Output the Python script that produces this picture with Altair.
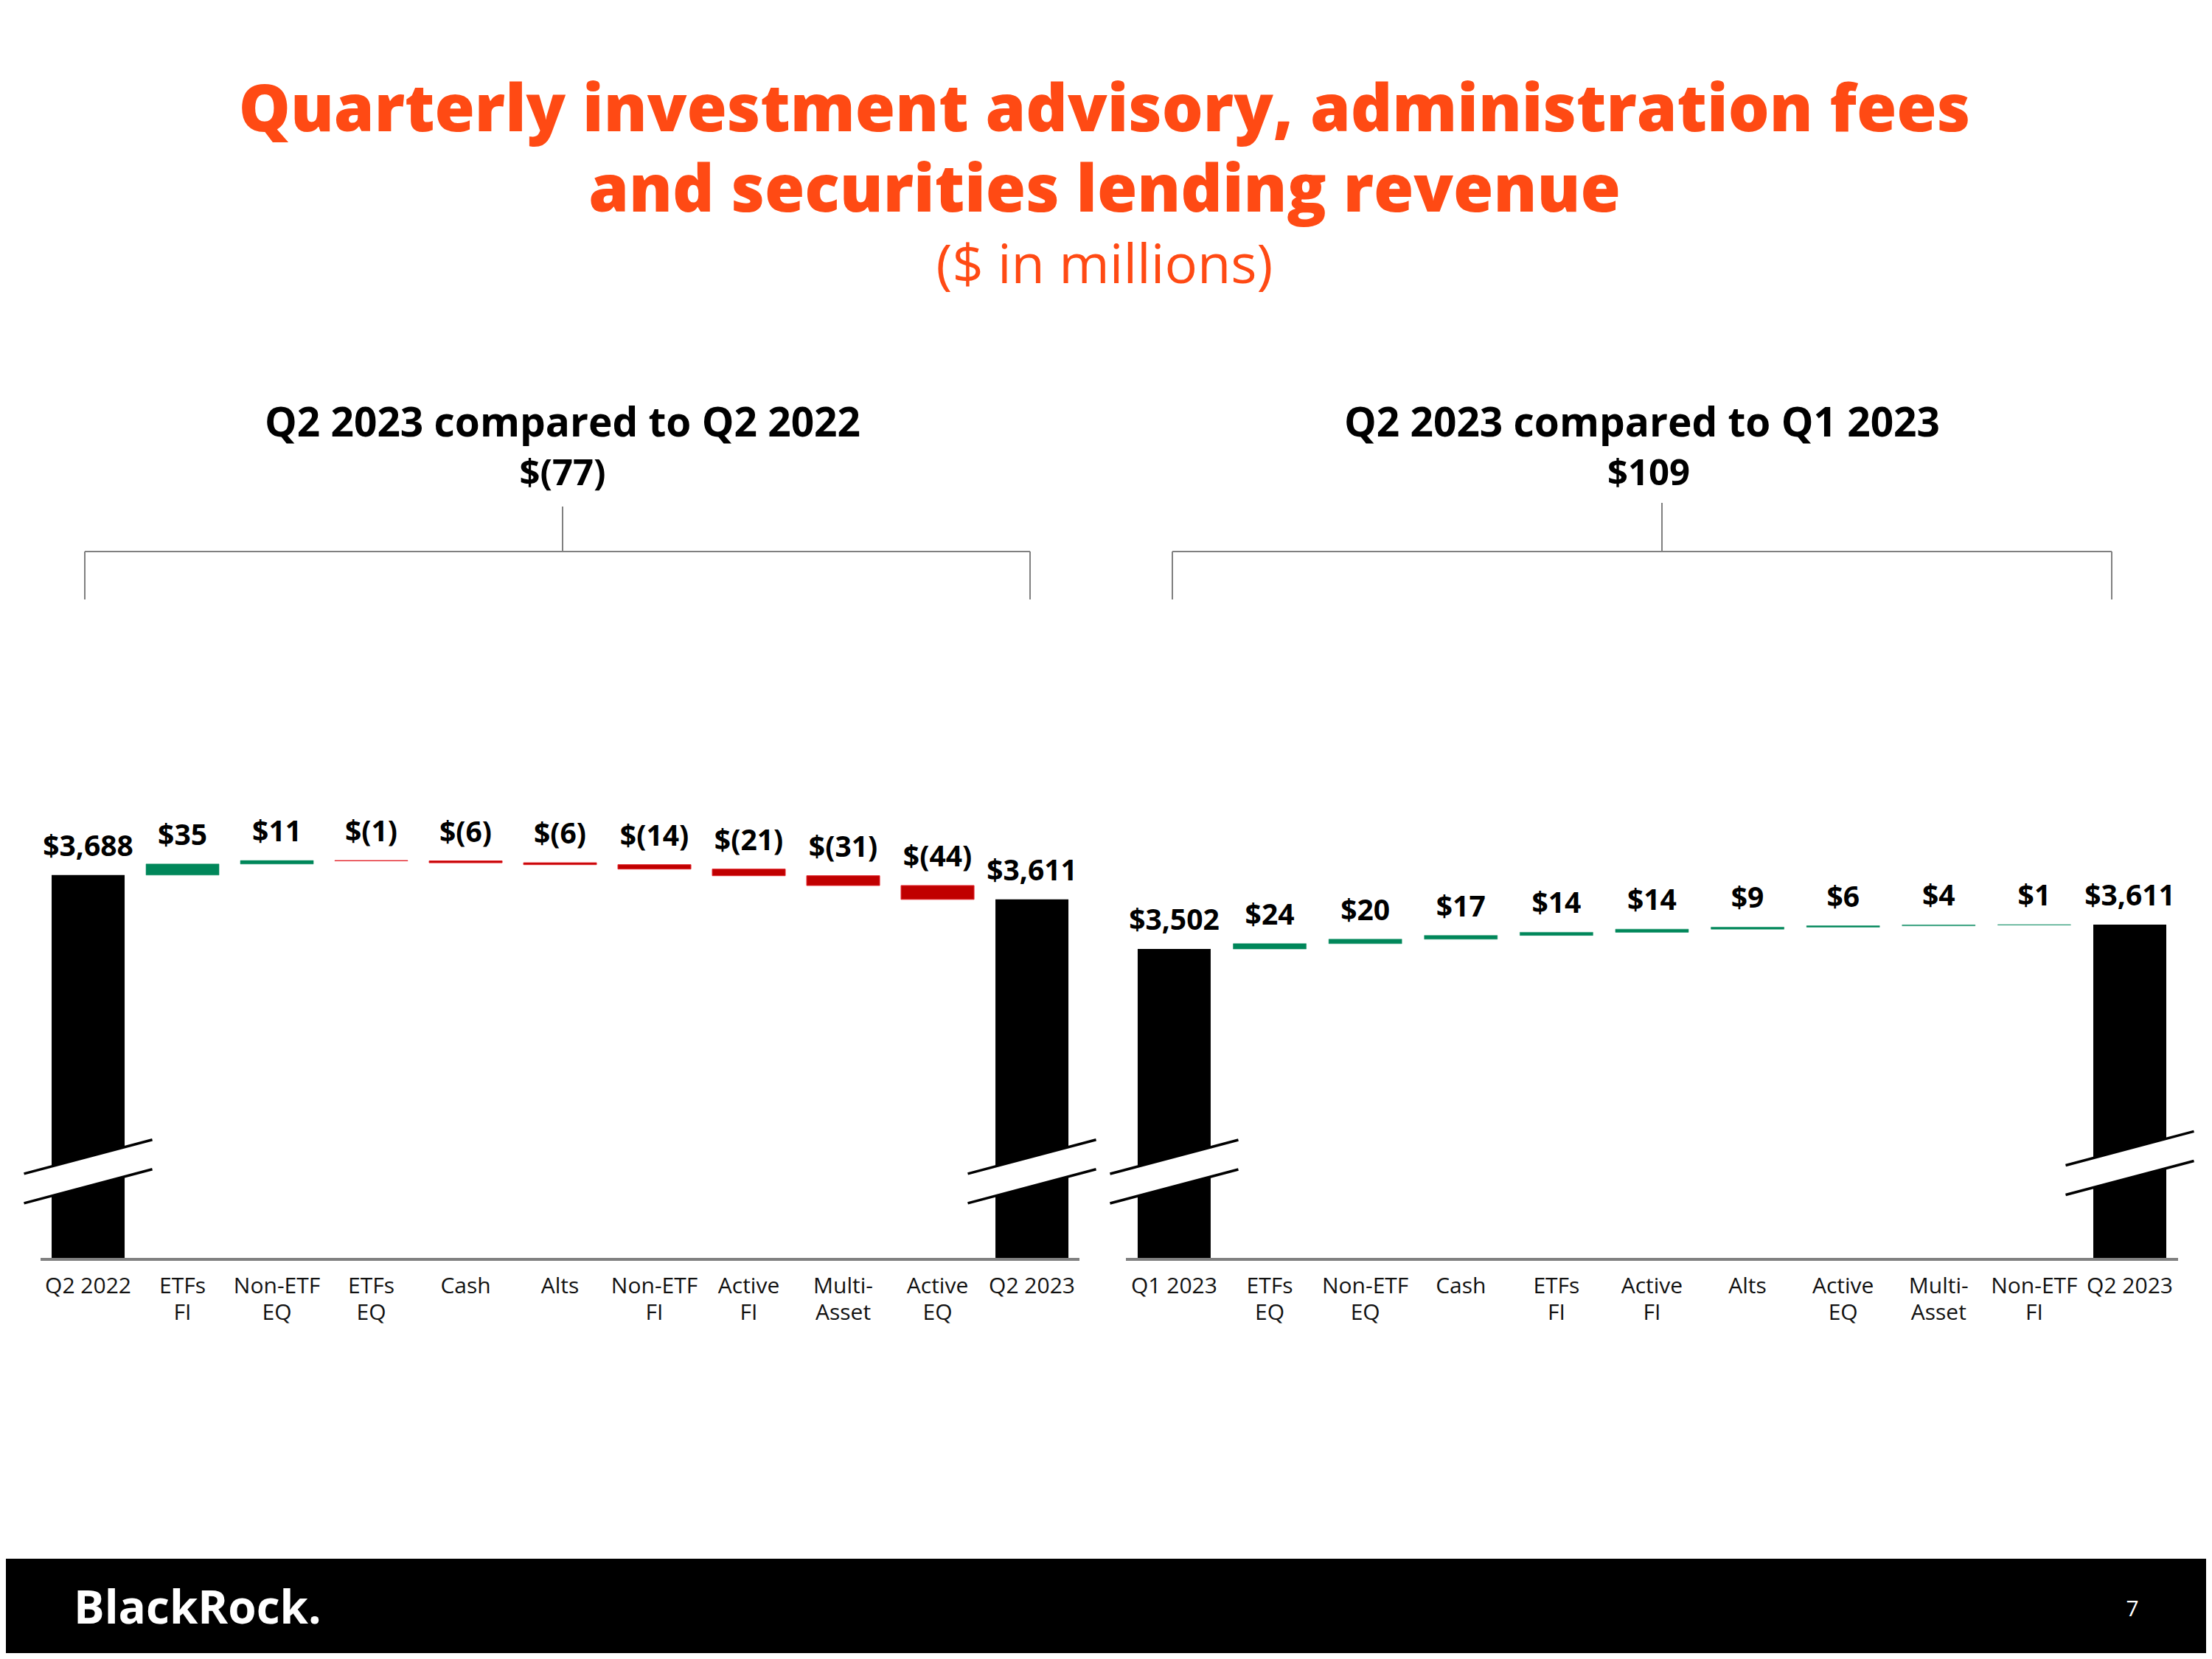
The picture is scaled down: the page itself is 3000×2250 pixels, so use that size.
import altair as alt
import pandas as pd

# ---------------- data ----------------
main_title = ["Quarterly investment advisory, administration fees",
              "and securities lending revenue"]
subtitle = "($ in millions)"

left_title = "Q2 2023 compared to Q2 2022"
left_change = "$(77)"
left_categories = ["Q2 2022", "ETFs\nFI", "Non-ETF\nEQ", "ETFs\nEQ", "Cash", "Alts",
                   "Non-ETF\nFI", "Active\nFI", "Multi-\nAsset", "Active\nEQ", "Q2 2023"]
left_values = [3688, 35, 11, -1, -6, -6, -14, -21, -31, -44, 3611]
left_axis_start = 2472      # value where the truncated axis begins
left_break_at = [2750, 2750]

right_title = "Q2 2023 compared to Q1 2023"
right_change = "$109"
right_categories = ["Q1 2023", "ETFs\nEQ", "Non-ETF\nEQ", "Cash", "ETFs\nFI", "Active\nFI",
                    "Alts", "Active\nEQ", "Multi-\nAsset", "Non-ETF\nFI", "Q2 2023"]
right_values = [3502, 24, 20, 17, 14, 14, 9, 6, 4, 1, 3611]
right_axis_start = 2112
right_break_at = [2505, 2543]

footer_logo = "BlackRock."
page_number = "7"

# ---------------- style ----------------
ORANGE = "#FF4A14"
GREEN = "#00875A"
RED_FILL = "#C00000"
RED_EDGE = "#E3242B"
GRAY = "#808080"
FONT = "Open Sans"

TOTAL_W = 2984
HEADER_H = 822
PANEL_H = 1000
FOOTER_H = 412
PANEL_W = 1492
BASE_Y = 878          # pixel row of the axis line inside a panel

PARALLELOGRAM = "M-1,0.035 L1,-0.495 L1,-0.035 L-1,0.495 Z"
TWO_LINES = "M-1,0.035 L1,-0.495 M-1,0.495 L1,-0.035"
BREAK_SIZE = 30276

one = pd.DataFrame({"a": [0]})


def fmt(v, total):
    if total:
        return f"${v:,}"
    return f"${v}" if v >= 0 else f"$({-v})"


def waterfall(cats, vals, base):
    rows = []
    running = 0
    n = len(vals)
    for i, (c, v) in enumerate(zip(cats, vals)):
        if i == 0 or i == n - 1:
            lo, hi, kind = base, v, "total"
            running = v
            label = fmt(v, True)
        else:
            start, end = running, running + v
            lo, hi = min(start, end), max(start, end)
            kind = "up" if v >= 0 else "down"
            running = end
            label = fmt(v, False)
        rows.append(dict(cat=c, lo=lo, hi=hi, kind=kind, label=label))
    return pd.DataFrame(rows)


def panel(cats, vals, base, px_per_usd, p_inner, p_outer, align, ax0, ax1, breaks):
    df = waterfall(cats, vals, base)
    dom = [base - (PANEL_H - BASE_Y) / px_per_usd, base + BASE_Y / px_per_usd]
    x = alt.X("cat:N", sort=cats,
              scale=alt.Scale(domain=cats, paddingInner=p_inner,
                              paddingOuter=p_outer, align=align),
              axis=None)
    yscale = alt.Scale(domain=dom, zero=False, nice=False)

    bars = alt.Chart(df).mark_bar().encode(
        x=x,
        y=alt.Y("lo:Q", scale=yscale, axis=None),
        y2="hi:Q",
        color=alt.Color("kind:N", scale=alt.Scale(domain=["total", "up", "down"],
                                                   range=["#000000", GREEN, RED_FILL]),
                        legend=None),
        stroke=alt.Stroke("kind:N", scale=alt.Scale(domain=["total", "up", "down"],
                                                     range=["#000000", GREEN, RED_EDGE]),
                          legend=None),
        strokeWidth=alt.StrokeWidth("kind:O", scale=alt.Scale(domain=["total", "up", "down"],
                                                               range=[0, 1, 3]),
                                    legend=None),
    )
    values = alt.Chart(df).mark_text(
        baseline="alphabetic", dy=-26, fontSize=39, fontWeight="bold",
        font=FONT, color="#000000"
    ).encode(x=x, y=alt.Y("hi:Q", scale=yscale), text="label:N")

    ticks = alt.Chart(df).mark_text(
        baseline="alphabetic", fontSize=30, font=FONT, color="#111111",
        lineBreak="\n", lineHeight=36
    ).encode(x=x, y=alt.value(924), text="cat:N")

    axis_line = alt.Chart(one).mark_rule(color=GRAY, strokeWidth=4).encode(
        x=alt.value(ax0), x2=alt.value(ax1), y=alt.datum(base, scale=yscale)
    )

    brk = pd.DataFrame({"cat": [cats[0], cats[-1]], "v": breaks})
    brk_fill = alt.Chart(brk).mark_point(
        shape=PARALLELOGRAM, size=BREAK_SIZE, filled=True, color="white",
        strokeWidth=0, opacity=1
    ).encode(x=x, y=alt.Y("v:Q", scale=yscale))
    brk_lines = alt.Chart(brk).mark_point(
        shape=TWO_LINES, size=BREAK_SIZE, filled=False, color="black",
        strokeWidth=3.5, opacity=1
    ).encode(x=x, y=alt.Y("v:Q", scale=yscale))

    return alt.layer(bars, axis_line, brk_fill, brk_lines, values, ticks).properties(
        width=PANEL_W, height=PANEL_H
    )


left = panel(left_categories, left_values, left_axis_start, 0.4286,
             0.2266, 0.4414, 0.549, 47, 1456, left_break_at)
right = panel(right_categories, right_values, right_axis_start, 0.3028,
              0.2361, 0.374, 0.443, 27, 1454, right_break_at)

# ---------------- header ----------------
def text_layer(txt, x, y, size, weight="normal", color="#000000", align="center",
               baseline="alphabetic", line_height=None, font=FONT):
    kw = dict(text=txt, fontSize=size, fontWeight=weight, color=color, align=align,
              baseline=baseline, font=font)
    if line_height:
        kw["lineHeight"] = line_height
    return alt.Chart(one).mark_text(**kw).encode(x=alt.value(x), y=alt.value(y))


brackets = pd.DataFrame({
    "x":  [755, 107, 107, 1389, 2246, 1582, 1582, 2856],
    "x2": [755, 1389, 107, 1389, 2246, 2856, 1582, 2856],
    "y":  [679, 740, 740, 740, 674, 740, 740, 740],
    "y2": [740, 740, 805, 805, 740, 740, 805, 805],
})
bracket_rules = alt.Chart(brackets).mark_rule(color=GRAY, strokeWidth=2).encode(
    x=alt.X("x:Q", scale=None), x2="x2:Q",
    y=alt.Y("y:Q", scale=None), y2="y2:Q",
)

header = alt.layer(
    text_layer(main_title, 1490, 170, 88, 800, ORANGE, line_height=109),
    text_layer(subtitle, 1490, 376, 74, "normal", ORANGE),
    text_layer(left_title, 755, 584, 55, "bold"),
    text_layer(left_change, 755, 650, 49, "bold"),
    text_layer(right_title, 2219, 584, 55, "bold"),
    text_layer(right_change, 2228, 650, 49, "bold"),
    bracket_rules,
).properties(width=TOTAL_W, height=HEADER_H)

# ---------------- footer ----------------
footer_bg = alt.Chart(one).mark_rect(color="#000000").encode(
    x=alt.value(0), x2=alt.value(TOTAL_W), y=alt.value(284), y2=alt.value(FOOTER_H)
)
footer = alt.layer(
    footer_bg,
    text_layer(footer_logo, 92, 353, 62, "bold", "#FFFFFF", align="left", baseline="middle"),
    text_layer(page_number, 2884, 353, 30, "normal", "#FFFFFF", baseline="middle"),
).properties(width=TOTAL_W, height=FOOTER_H)

chart = alt.vconcat(
    header,
    alt.hconcat(left, right, spacing=0, bounds="flush"),
    footer,
    spacing=0,
).properties(padding=0).configure_view(stroke=None)

chart.save("out.html", embed_options={"renderer": "svg", "actions": False})
